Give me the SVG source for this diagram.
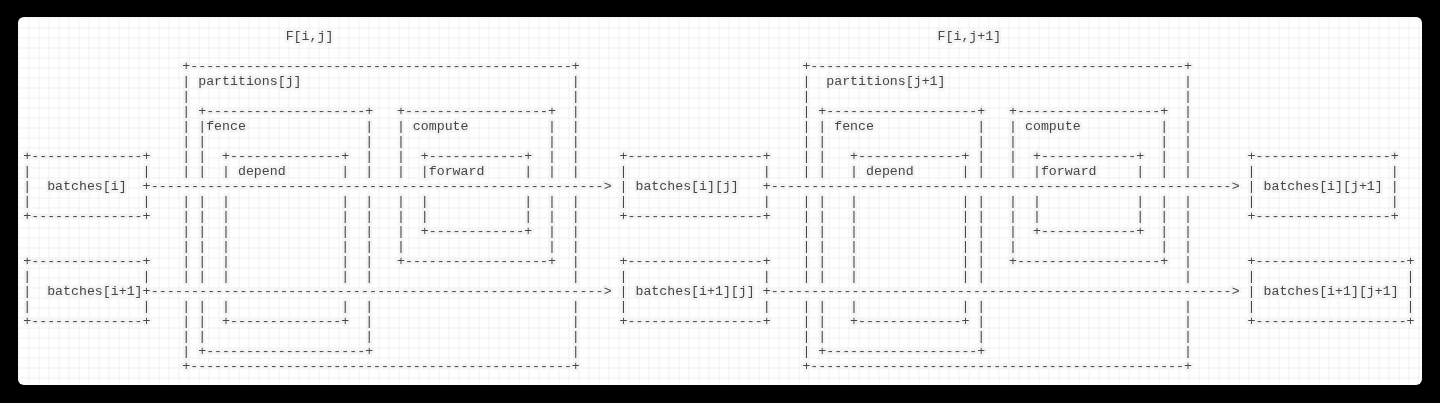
<svg xmlns="http://www.w3.org/2000/svg" xmlns:xlink="http://www.w3.org/1999/xlink" width="1440" height="403" viewBox="0 0 1440 403">
<style>
.t{font-family:"Liberation Mono","DejaVu Sans Mono",monospace;font-size:13.25px;fill:#454545;stroke:#f4f4f4;stroke-width:5px;stroke-linejoin:round;paint-order:stroke fill}
</style>
<defs>
<pattern id="grid" x="18.5" y="17.5" width="10" height="10" patternUnits="userSpaceOnUse"><path d="M10 0H0V10" fill="none" stroke="#e4e4e4" stroke-width="1"/></pattern>
<filter id="gray" x="0" y="0" width="1" height="1"><feOffset dx="0" dy="0"/></filter>
<text id="vP" class="t" x="0 0 0 0 0 0 0 0 0 0 0 0 0 0 0 0 0" y="85.3 100.3 115.3 130.3 145.3 160.3 175.3 205.3 220.3 235.3 250.3 265.3 280.3 310.3 325.3 340.3 355.3">|||||||||||||||||</text>
<text id="vFe" class="t" x="0 0 0 0 0 0 0 0 0 0 0 0 0" y="130.3 145.3 160.3 175.3 205.3 220.3 235.3 250.3 265.3 280.3 310.3 325.3 340.3">|||||||||||||</text>
<text id="vD" class="t" x="0 0 0 0 0 0 0 0" y="175.3 205.3 220.3 235.3 250.3 265.3 280.3 310.3">||||||||</text>
<text id="vC" class="t" x="0 0 0 0 0 0 0 0" y="130.3 145.3 160.3 175.3 205.3 220.3 235.3 250.3">||||||||</text>
<text id="vFw" class="t" x="0 0 0" y="175.3 205.3 220.3">|||</text>
<text id="v3a" class="t" x="0 0 0" y="175.3 190.3 205.3">|||</text>
<text id="v2a" class="t" x="0 0" y="175.3 205.3">||</text>
<text id="v3b" class="t" x="0 0 0" y="280.3 295.3 310.3">|||</text>
<text id="v2b" class="t" x="0 0" y="280.3 310.3">||</text>
</defs>
<rect width="1440" height="403" fill="#000"/>
<rect x="18" y="17" width="1404" height="368" rx="6" fill="#fff"/>
<rect x="18" y="17" width="1404" height="368" rx="6" fill="url(#grid)"/>
<g id="diagram" opacity="0.99" filter="url(#gray)">
<g id="titles">
<text class="t" x="285.65" y="40.3">F[i,j]</text>
<text class="t" x="937.55" y="40.3">F[i,j+1]</text>
</g>
<g id="batches-i">
<text class="t" x="23.3" y="160.3" textLength="127.2">+--------------+</text>
<text class="t" x="23.3" y="220.3" textLength="127.2">+--------------+</text>
<use xlink:href="#v3a" x="23.3"/>
<use xlink:href="#v2a" x="142.55"/>
<text class="t" x="47.15" y="190.3">batches[i]</text>
</g>
<g id="batches-i1">
<text class="t" x="23.3" y="265.3" textLength="127.2">+--------------+</text>
<text class="t" x="23.3" y="325.3" textLength="127.2">+--------------+</text>
<use xlink:href="#v3b" x="23.3"/>
<use xlink:href="#v2b" x="142.55"/>
<text class="t" x="47.15" y="295.3">batches[i+1]</text>
</g>
<g id="partitions-j">
<text class="t" x="182.3" y="70.3" textLength="397.5">+------------------------------------------------+</text>
<text class="t" x="182.3" y="370.3" textLength="397.5">+------------------------------------------------+</text>
<use xlink:href="#vP" x="182.3"/>
<use xlink:href="#vP" x="571.85"/>
<text class="t" x="198.2" y="85.3">partitions[j]</text>
</g>
<g id="fence-j">
<text class="t" x="198.2" y="115.3" textLength="174.9">+--------------------+</text>
<text class="t" x="198.2" y="355.3" textLength="174.9">+--------------------+</text>
<use xlink:href="#vFe" x="198.2"/>
<use xlink:href="#vFe" x="365.15"/>
<text class="t" x="206.15" y="130.3">fence</text>
</g>
<g id="depend-j">
<text class="t" x="222.05" y="160.3" textLength="127.2">+--------------+</text>
<text class="t" x="222.05" y="325.3" textLength="127.2">+--------------+</text>
<use xlink:href="#vD" x="222.05"/>
<use xlink:href="#vD" x="341.3"/>
<text class="t" x="237.95" y="175.3">depend</text>
</g>
<g id="compute-j">
<text class="t" x="397" y="115.3" textLength="159">+------------------+</text>
<text class="t" x="397" y="265.3" textLength="159">+------------------+</text>
<use xlink:href="#vC" x="397"/>
<use xlink:href="#vC" x="548"/>
<text class="t" x="412.85" y="130.3">compute</text>
</g>
<g id="forward-j">
<text class="t" x="420.8" y="160.3" textLength="111.3">+------------+</text>
<text class="t" x="420.8" y="235.3" textLength="111.3">+------------+</text>
<use xlink:href="#vFw" x="420.8"/>
<use xlink:href="#vFw" x="524.15"/>
<text class="t" x="428.75" y="175.3">forward</text>
</g>
<g id="batches-i-j">
<text class="t" x="619.55" y="160.3" textLength="151.05">+-----------------+</text>
<text class="t" x="619.55" y="220.3" textLength="151.05">+-----------------+</text>
<use xlink:href="#v3a" x="619.55"/>
<use xlink:href="#v2a" x="762.65"/>
<text class="t" x="635.45" y="190.3">batches[i][j]</text>
</g>
<g id="batches-i1-j">
<text class="t" x="619.55" y="265.3" textLength="151.05">+-----------------+</text>
<text class="t" x="619.55" y="325.3" textLength="151.05">+-----------------+</text>
<use xlink:href="#v3b" x="619.55"/>
<use xlink:href="#v2b" x="762.65"/>
<text class="t" x="635.45" y="295.3">batches[i+1][j]</text>
</g>
<g id="partitions-j1">
<text class="t" x="802.4" y="70.3" textLength="389.55">+-----------------------------------------------+</text>
<text class="t" x="802.4" y="370.3" textLength="389.55">+-----------------------------------------------+</text>
<use xlink:href="#vP" x="802.4"/>
<use xlink:href="#vP" x="1184"/>
<text class="t" x="826.25" y="85.3">partitions[j+1]</text>
</g>
<g id="fence-j1">
<text class="t" x="818.3" y="115.3" textLength="166.95">+-------------------+</text>
<text class="t" x="818.3" y="355.3" textLength="166.95">+-------------------+</text>
<use xlink:href="#vFe" x="818.3"/>
<use xlink:href="#vFe" x="977.3"/>
<text class="t" x="834.2" y="130.3">fence</text>
</g>
<g id="depend-j1">
<text class="t" x="850.1" y="160.3" textLength="119.25">+-------------+</text>
<text class="t" x="850.1" y="325.3" textLength="119.25">+-------------+</text>
<use xlink:href="#vD" x="850.1"/>
<use xlink:href="#vD" x="961.4"/>
<text class="t" x="866" y="175.3">depend</text>
</g>
<g id="compute-j1">
<text class="t" x="1009.1" y="115.3" textLength="159">+------------------+</text>
<text class="t" x="1009.1" y="265.3" textLength="159">+------------------+</text>
<use xlink:href="#vC" x="1009.1"/>
<use xlink:href="#vC" x="1160.15"/>
<text class="t" x="1025" y="130.3">compute</text>
</g>
<g id="forward-j1">
<text class="t" x="1032.95" y="160.3" textLength="111.3">+------------+</text>
<text class="t" x="1032.95" y="235.3" textLength="111.3">+------------+</text>
<use xlink:href="#vFw" x="1032.95"/>
<use xlink:href="#vFw" x="1136.3"/>
<text class="t" x="1040.9" y="175.3">forward</text>
</g>
<g id="batches-i-j1">
<text class="t" x="1247.6" y="160.3" textLength="151.05">+-----------------+</text>
<text class="t" x="1247.6" y="220.3" textLength="151.05">+-----------------+</text>
<use xlink:href="#v3a" x="1247.6"/>
<use xlink:href="#v3a" x="1390.7"/>
<text class="t" x="1263.5" y="190.3">batches[i][j+1]</text>
</g>
<g id="batches-i1-j1">
<text class="t" x="1247.6" y="265.3" textLength="166.95">+-------------------+</text>
<text class="t" x="1247.6" y="325.3" textLength="166.95">+-------------------+</text>
<use xlink:href="#v3b" x="1247.6"/>
<use xlink:href="#v3b" x="1406.6"/>
<text class="t" x="1263.5" y="295.3">batches[i+1][j+1]</text>
</g>
<g id="connectors">
<text class="t" x="142.55" y="190.3" textLength="469.05">+--------------------------------------------------------&gt;</text>
<text class="t" x="142.55" y="295.3" textLength="469.05">+--------------------------------------------------------&gt;</text>
<text class="t" x="762.65" y="190.3" textLength="477">+---------------------------------------------------------&gt;</text>
<text class="t" x="762.65" y="295.3" textLength="477">+---------------------------------------------------------&gt;</text>
</g>
</g>
</svg>
